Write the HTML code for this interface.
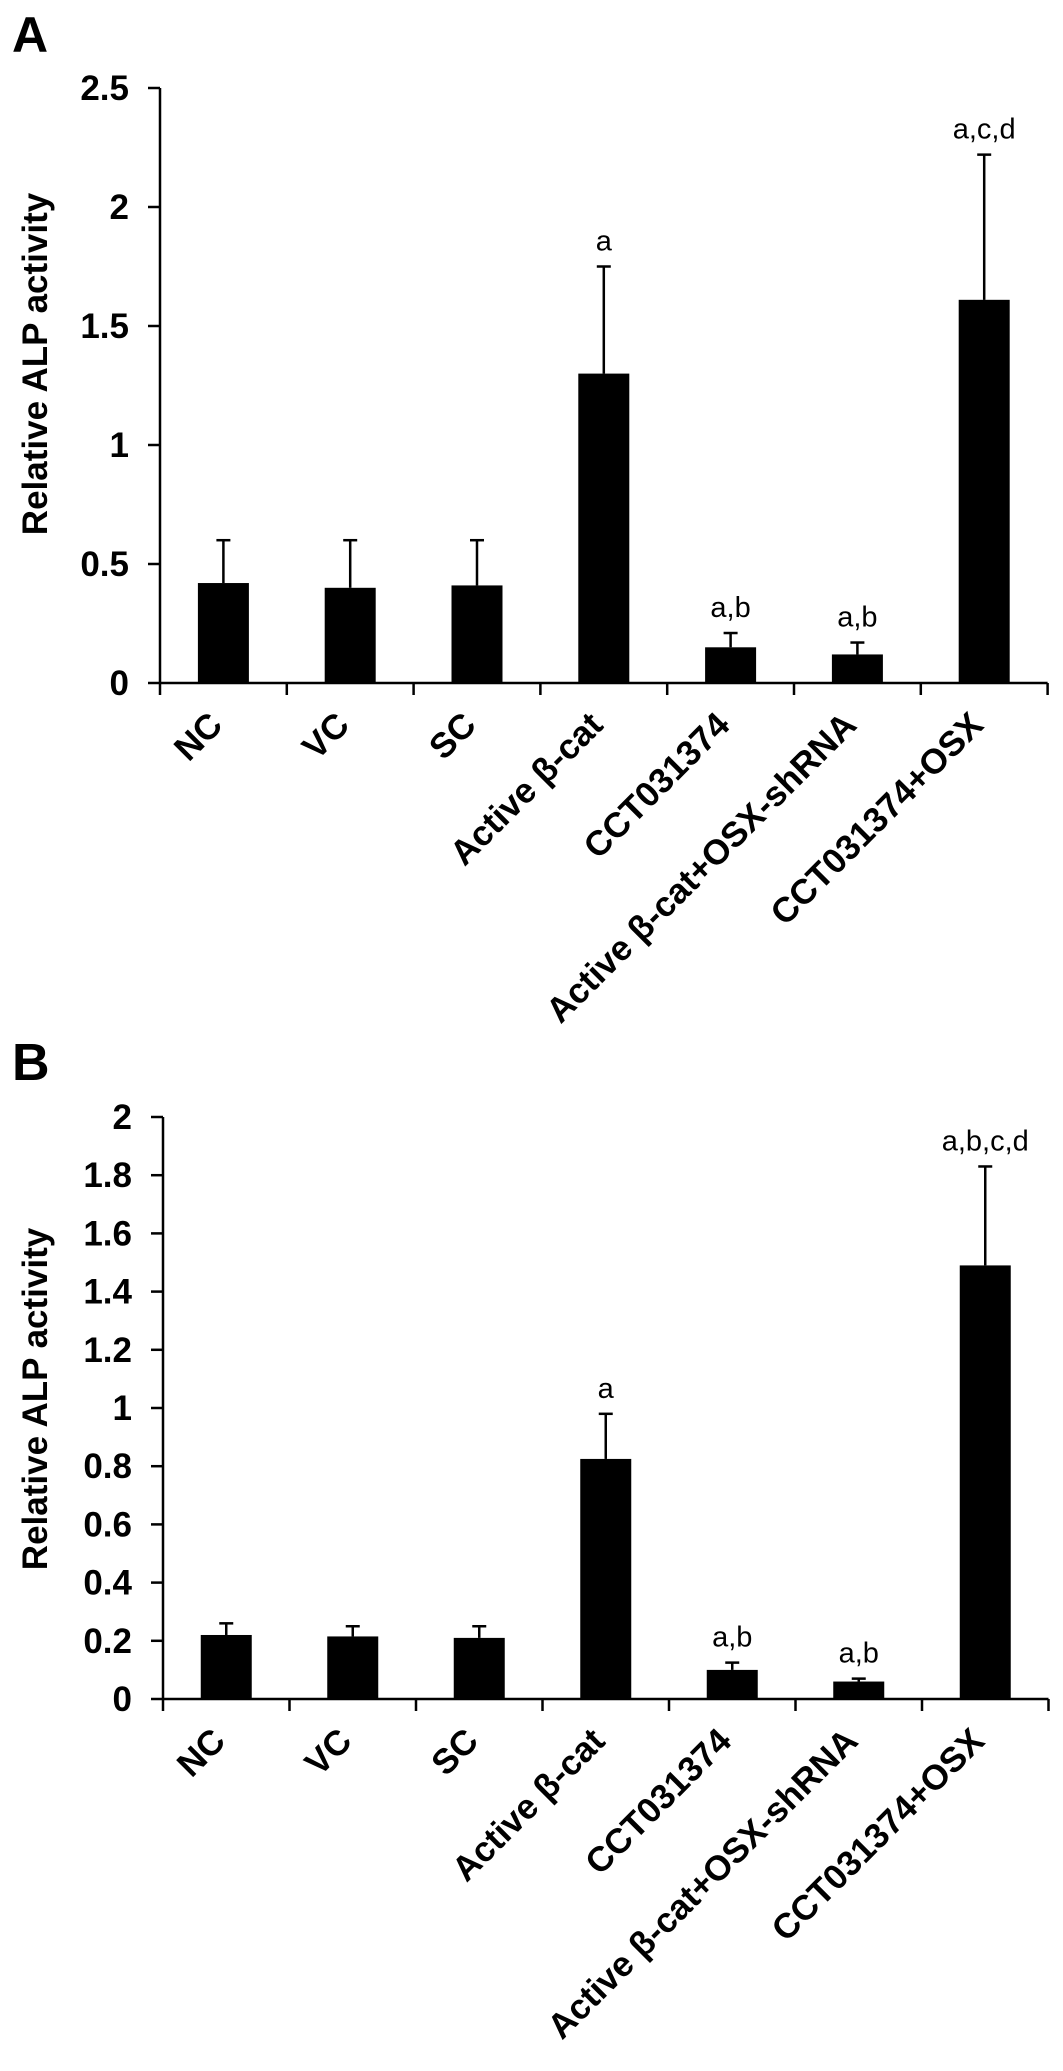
<!DOCTYPE html>
<html><head><meta charset="utf-8"><style>
html,body{margin:0;padding:0;background:#fff;}
svg{display:block;}
text{font-family:"Liberation Sans",Arial,sans-serif;fill:#000;}
</style></head><body>
<svg id="fig" width="1063" height="2071" viewBox="0 0 1063 2071" xmlns="http://www.w3.org/2000/svg">
<text x="12" y="52" font-size="50" font-weight="bold">A</text>
<text x="12" y="1080" font-size="52" font-weight="bold">B</text>
<g id="chartA"></g>
<g id="chartB"></g>
</svg>
<script>
const categories = ["NC","VC","SC","Active β-cat","CCT031374","Active β-cat+OSX-shRNA","CCT031374+OSX"];
const valuesA = [0.42,0.40,0.41,1.30,0.15,0.12,1.61];
const errTopA = [0.60,0.60,0.60,1.75,0.21,0.17,2.22];
const annotA = ["","","","a","a,b","a,b","a,c,d"];
const ticksA = [0,0.5,1,1.5,2,2.5];
const tickLabelsA = ["0","0.5","1","1.5","2","2.5"];
const valuesB = [0.22,0.215,0.21,0.825,0.10,0.06,1.49];
const errTopB = [0.26,0.25,0.25,0.98,0.125,0.07,1.83];
const annotB = ["","","","a","a,b","a,b","a,b,c,d"];
const ticksB = [0,0.2,0.4,0.6,0.8,1,1.2,1.4,1.6,1.8,2];
const tickLabelsB = ["0","0.2","0.4","0.6","0.8","1","1.2","1.4","1.6","1.8","2"];

const NS="http://www.w3.org/2000/svg";
function mk(parent,tag,attrs){const e=document.createElementNS(NS,tag);for(const k in attrs)e.setAttribute(k,attrs[k]);parent.appendChild(e);return e;}

function drawChart(g,cfg){
  const {x0,y0,yTopPx,yMax,step,values,errs,annots,ticks,tickLabels,titleY}=cfg;
  const yS=v=>y0-(v/yMax)*(y0-yTopPx);
  const xC=i=>x0+step*(i+0.5);
  const x1=x0+step*categories.length;
  const ya=mk(g,'line',{x1:x0,y1:yTopPx,x2:x0,y2:y0,stroke:'#000','stroke-width':2.5});
  
  
  ticks.forEach((t,i)=>{
    const tl=mk(g,'line',{x1:x0-12,y1:yS(t),x2:x0,y2:yS(t),stroke:'#000','stroke-width':2.5});
    
    
    const tx=mk(g,'text',{x:x0-31,y:yS(t)+12,'font-size':35,'font-weight':'bold','text-anchor':'end'});
    
    
    tx.textContent=tickLabels[i];
  });
  const xa=mk(g,'line',{x1:x0,y1:y0,x2:x1,y2:y0,stroke:'#000','stroke-width':2.5});
  
  
  for(let i=0;i<=categories.length;i++){
    const xt=mk(g,'line',{x1:x0+step*i,y1:y0,x2:x0+step*i,y2:y0+12,stroke:'#000','stroke-width':2.5});
    
    
  }
  const bw=51;
  categories.forEach((c,i)=>{
    const cx=xC(i);
    const el=mk(g,'line',{x1:cx,y1:yS(values[i]),x2:cx,y2:yS(errs[i]),stroke:'#000','stroke-width':2.5});
    
    
    const cap=mk(g,'line',{x1:cx-7,y1:yS(errs[i]),x2:cx+7,y2:yS(errs[i]),stroke:'#000','stroke-width':2.5});
    
    
    const r=mk(g,'rect',{x:cx-bw/2,y:yS(values[i]),width:bw,height:y0-yS(values[i]),fill:'#000'});
    
    
    if(annots[i]){
      const a=mk(g,'text',{x:cx,y:yS(errs[i])-16,'font-size':29,'text-anchor':'middle'});
      
      
      a.textContent=annots[i];
    }
    const lx=cx+1, ly=y0+44;
    const lb=mk(g,'text',{x:lx,y:ly,'font-size':35,'font-weight':'bold','text-anchor':'end',transform:`rotate(-45 ${lx} ${ly})`});
    
    
    lb.textContent=c;
  });
  const tt=mk(g,'text',{x:0,y:0,'font-size':35,'font-weight':'bold','text-anchor':'middle',transform:`translate(47 ${titleY}) rotate(-90)`});
  
  
  tt.textContent='Relative ALP activity';
}
drawChart(document.getElementById('chartA'),{x0:160,y0:683,yTopPx:88,yMax:2.5,step:126.8,values:valuesA,errs:errTopA,annots:annotA,ticks:ticksA,tickLabels:tickLabelsA,titleY:364});
drawChart(document.getElementById('chartB'),{x0:163,y0:1699,yTopPx:1117,yMax:2,step:126.5,values:valuesB,errs:errTopB,annots:annotB,ticks:ticksB,tickLabels:tickLabelsB,titleY:1399});
</script>
</body></html>
